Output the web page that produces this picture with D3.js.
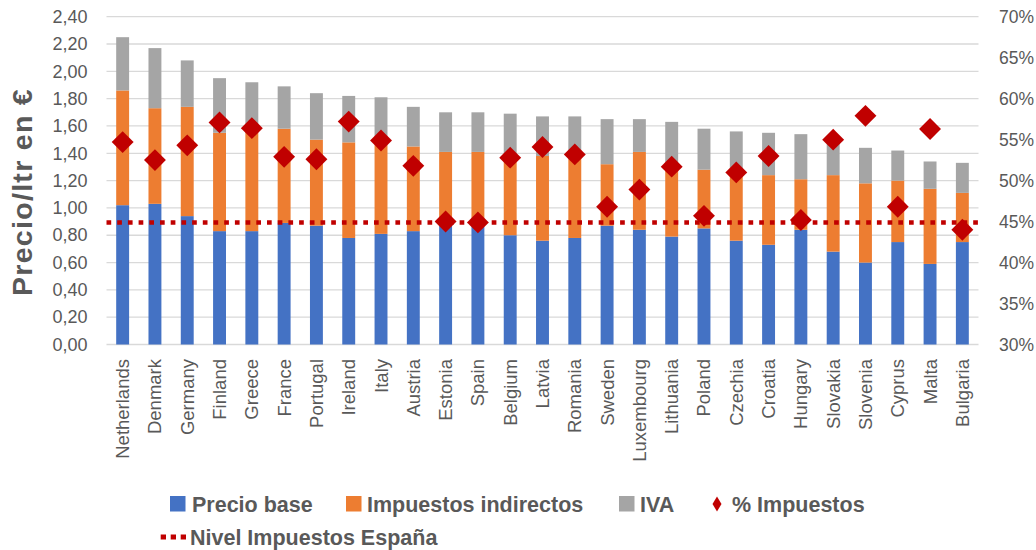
<html>
<head>
    <meta charset="utf-8">
    <script src="https://d3js.org/d3.v7.min.js" charset="utf-8"></script>
    <style>
        body { margin: 0; background: #ffffff; }
        text { font-family: "Liberation Sans", Arial, sans-serif; fill: #595959; }
    </style>
</head>
<body>
<script>
    // data
    const countries = ['Netherlands','Denmark','Germany','Finland','Greece','France','Portugal','Ireland','Italy',
                       'Austria','Estonia','Spain','Belgium','Latvia','Romania','Sweden','Luxembourg','Lithuania',
                       'Poland','Czechia','Croatia','Hungary','Slovakia','Slovenia','Cyprus','Malta','Bulgaria'];
    const precioBase   = [1.02,1.03,0.94,0.83,0.83,0.89,0.87,0.78,0.81,0.83,0.88,0.87,0.80,0.76,0.78,0.87,0.84,0.79,0.85,0.76,0.73,0.84,0.68,0.60,0.75,0.59,0.75];
    const impIndirectos= [0.84,0.70,0.80,0.72,0.74,0.69,0.63,0.70,0.65,0.62,0.53,0.54,0.57,0.62,0.61,0.45,0.57,0.51,0.43,0.50,0.51,0.37,0.56,0.58,0.45,0.55,0.36];
    const iva          = [0.39,0.44,0.34,0.40,0.35,0.31,0.34,0.34,0.35,0.29,0.29,0.29,0.32,0.29,0.28,0.33,0.24,0.33,0.30,0.30,0.31,0.33,0.25,0.26,0.22,0.20,0.22];
    const pctImpuestos = [54.7,52.5,54.3,57.1,56.4,52.9,52.6,57.2,54.9,51.8,45.0,44.9,52.8,54.1,53.2,46.8,48.9,51.7,45.7,51.0,53.0,45.2,55.0,57.9,46.8,56.3,44.0];
    const nivelEspana = 44.9;

    const leftTicks  = [0,0.2,0.4,0.6,0.8,1.0,1.2,1.4,1.6,1.8,2.0,2.2,2.4];
    const rightTicks = [30,35,40,45,50,55,60,65,70];
    const seriesNames = ['Precio base','Impuestos indirectos','IVA','% Impuestos','Nivel Impuestos España'];
    const colorArray = ['#4472C4','#ED7D31','#A5A5A5','#C00000'];

    const w = 1036, h = 550;
    const plotLeft = 106.5, plotRight = 978.5, plotTop = 16.7, plotBottom = 344.5;

    const rows = countries.map((c,i)=>({country:c, base:precioBase[i], ind:impIndirectos[i], iva:iva[i], pct:pctImpuestos[i]}));
    const stack = d3.stack().keys(['base','ind','iva'])(rows);

    const svg = d3.select('body').append('svg')
                  .attr('width', w)
                  .attr('height', h);

    const xScale = d3.scaleBand().domain(countries).range([plotLeft,plotRight]).paddingInner(0.6).paddingOuter(0.3);
    const yScale = d3.scaleLinear().domain([0,2.4]).range([plotBottom,plotTop]);
    const y2Scale = d3.scaleLinear().domain([30,70]).range([plotBottom,plotTop]);

    const comma = d3.formatLocale({decimal:',', thousands:'.', grouping:[3], currency:['','€']});

    // gridlines
    svg.append('g').selectAll('line')
        .data(leftTicks)
        .enter()
        .append('line')
        .attr('x1', plotLeft).attr('x2', plotRight)
        .attr('y1', d=>yScale(d)).attr('y2', d=>yScale(d))
        .attr('stroke','#D9D9D9')
        .attr('stroke-width',1.3);

    // stacked bars
    svg.append('g').selectAll('g')
        .data(stack)
        .enter()
        .append('g')
        .attr('fill',(d,i)=>colorArray[i])
        .selectAll('rect')
        .data(d=>d)
        .enter()
        .append('rect')
        .attr('x', d=>xScale(d.data.country))
        .attr('y', d=>yScale(d[1]))
        .attr('width', xScale.bandwidth())
        .attr('height', d=>yScale(d[0])-yScale(d[1]));

    // Spain level line
    svg.append('line')
        .attr('x1', plotLeft).attr('x2', plotRight)
        .attr('y1', y2Scale(nivelEspana)).attr('y2', y2Scale(nivelEspana))
        .attr('stroke','#C00000')
        .attr('stroke-width',4.5)
        .attr('stroke-dasharray','4.7,6');

    // % impuestos diamonds
    svg.append('g').selectAll('path')
        .data(rows)
        .enter()
        .append('path')
        .attr('d', d3.symbol(d3.symbolSquare, 240))
        .attr('transform', d=>'translate('+(xScale(d.country)+xScale.bandwidth()/2)+','+y2Scale(d.pct)+') rotate(45)')
        .attr('fill','#C00000');

    // axes
    const yAxis = d3.axisLeft(yScale).tickValues(leftTicks).tickSize(0).tickPadding(19)
                    .tickFormat(d=>comma.format('.2f')(d));
    const gy = svg.append('g').attr('transform','translate('+plotLeft+',0)').call(yAxis);
    gy.select('.domain').remove();
    gy.selectAll('text').style('font-size','18px').attr('fill','#595959');

    const y2Axis = d3.axisRight(y2Scale).tickValues(rightTicks).tickSize(0).tickPadding(20.5)
                    .tickFormat(d=>d+'%');
    const gy2 = svg.append('g').attr('transform','translate('+plotRight+',0)').call(y2Axis);
    gy2.select('.domain').remove();
    gy2.selectAll('text').style('font-size','17.5px').attr('fill','#595959');

    const xAxis = d3.axisBottom(xScale).tickSize(0).tickPadding(0);
    const gx = svg.append('g').attr('transform','translate(0,'+plotBottom+')').call(xAxis);
    gx.select('.domain').remove();
    gx.selectAll('text')
        .style('font-size','18.5px')
        .attr('fill','#595959')
        .attr('text-anchor','end')
        .attr('transform','rotate(-90)')
        .attr('x',-14.5)
        .attr('y',0)
        .attr('dy','0.35em');

    // y title
    svg.append('text')
        .attr('transform','translate(32,192) rotate(-90)')
        .attr('text-anchor','middle')
        .style('font-size','28.5px')
        .style('font-weight','bold')
        .style('letter-spacing','1.3px')
        .text('Precio/ltr en €');

    // legend
    const legend = svg.append('g').attr('id','legend');
    const squares = [{x:170,i:0,tx:192},{x:346,i:1,tx:367},{x:619,i:2,tx:640}];
    squares.forEach(s=>{
        legend.append('rect')
            .attr('x', s.x).attr('y', 496)
            .attr('width', 15.5).attr('height', 15.5)
            .attr('fill', colorArray[s.i]);
        legend.append('text')
            .attr('x', s.tx).attr('y', 504).attr('dy','0.35em')
            .style('font-size','21.5px').style('font-weight','bold')
            .text(seriesNames[s.i]);
    });
    legend.append('path')
        .attr('d','M717,496.5 L721.5,504 L717,511.5 L712.5,504 Z')
        .attr('fill','#C00000');
    legend.append('text')
        .attr('x', 732).attr('y', 504).attr('dy','0.35em')
        .style('font-size','21.5px').style('font-weight','bold')
        .text(seriesNames[3]);
    legend.append('line')
        .attr('x1',160.7).attr('x2',187)
        .attr('y1',537).attr('y2',537)
        .attr('stroke','#C00000')
        .attr('stroke-width',5)
        .attr('stroke-dasharray','5.3,4.7');
    legend.append('text')
        .attr('x', 190).attr('y', 537).attr('dy','0.35em')
        .style('font-size','21.5px').style('font-weight','bold')
        .text(seriesNames[4]);
</script>
</body>
</html>
